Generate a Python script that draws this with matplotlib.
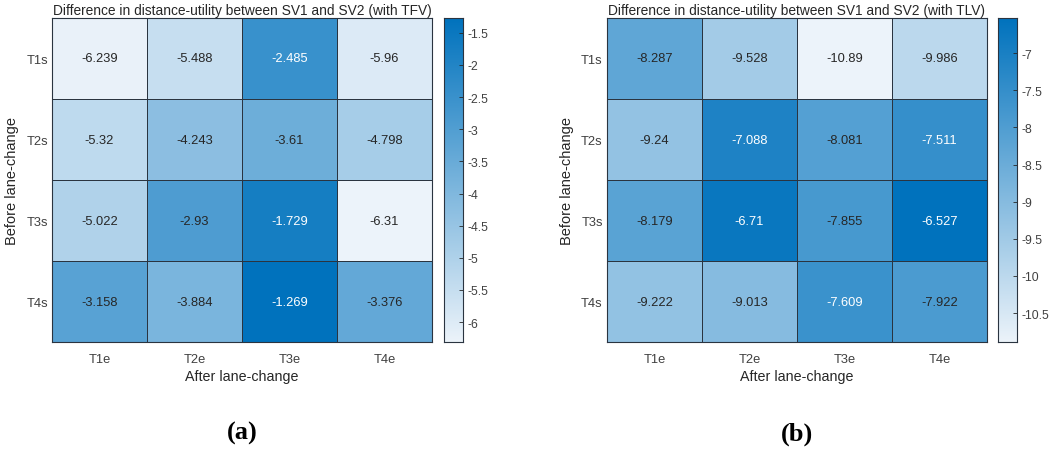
import numpy as np
import matplotlib
matplotlib.use('Agg')
import matplotlib.pyplot as plt
from matplotlib.colors import LinearSegmentedColormap

# 行/列 라벨
rows = ['T1s', 'T2s', 'T3s', 'T4s']
cols = ['T1e', 'T2e', 'T3e', 'T4e']

# (a) with TFV
tfv = [
    [-6.239, -5.488, -2.485, -5.96],
    [-5.32, -4.243, -3.61, -4.798],
    [-5.022, -2.93, -1.729, -6.31],
    [-3.158, -3.884, -1.269, -3.376],
]
# (b) with TLV
tlv = [
    [-8.287, -9.528, -10.89, -9.986],
    [-9.24, -7.088, -8.081, -7.511],
    [-8.179, -6.71, -7.855, -6.527],
    [-9.222, -9.013, -7.609, -7.922],
]

tfv_ticks = [-6, -5.5, -5, -4.5, -4, -3.5, -3, -2.5, -2, -1.5]
tlv_ticks = [-10.5, -10, -9.5, -9, -8.5, -8, -7.5, -7]

plt.rcParams['font.family'] = ['Liberation Sans', 'DejaVu Sans']

cmap = LinearSegmentedColormap.from_list('mblue', [(0.925, 0.953, 0.98), (0.0, 0.447, 0.741)])
txt_grey = '#404040'
line_c = '#2a3440'


def draw_heat(fig, rect, cbar_rect, data, title, cticks, label):
    arr = np.array(data)
    vmin, vmax = arr.min(), arr.max()
    ax = fig.add_axes(rect)
    ax.pcolormesh(arr, cmap=cmap, vmin=vmin, vmax=vmax, edgecolors=line_c, linewidth=0.5)
    ax.set_xlim(0, arr.shape[1])
    ax.set_ylim(arr.shape[0], 0)
    for i in range(arr.shape[0]):
        for j in range(arr.shape[1]):
            v = arr[i, j]
            norm = (v - vmin) / (vmax - vmin)
            c = 'white' if norm > 0.72 else '#262626'
            ax.text(j + 0.5, i + 0.5, f'{v:g}', ha='center', va='center', fontsize=9.3, color=c)
    ax.set_xticks(np.arange(arr.shape[1]) + 0.5)
    ax.set_xticklabels(cols)
    ax.set_yticks(np.arange(arr.shape[0]) + 0.5)
    ax.set_yticklabels(rows)
    ax.tick_params(axis='x', length=0, labelsize=9.3, labelcolor=txt_grey, pad=8)
    ax.tick_params(axis='y', length=0, labelsize=9.3, labelcolor=txt_grey, pad=3)
    for s in ax.spines.values():
        s.set_color(line_c)
        s.set_linewidth(0.8)
    ax.set_title(title, fontsize=9.9, color='#262626', pad=3)
    ax.set_xlabel('After lane-change', fontsize=10.3, color='#262626', labelpad=3)
    ax.set_ylabel('Before lane-change', fontsize=10.5, color='#262626', labelpad=5)

    cax = fig.add_axes(cbar_rect)
    grad = np.linspace(vmin, vmax, 256).reshape(-1, 1)
    cax.imshow(grad, aspect='auto', origin='lower', cmap=cmap,
               extent=[0, 1, vmin, vmax])
    cax.set_xticks([])
    cax.yaxis.tick_right()
    cax.set_yticks(cticks)
    cax.set_yticklabels([f'{t:g}' for t in cticks])
    cax.tick_params(axis='y', direction='in', length=3, width=0.6, labelsize=8.8,
                    labelcolor=txt_grey, color='#262626')
    for s in cax.spines.values():
        s.set_color(line_c)
        s.set_linewidth(0.8)

    fig.text(rect[0] + rect[2] / 2, 0.04, label, ha='center', va='center',
             fontsize=19, fontweight='bold', family='Liberation Serif')


fig = plt.figure(figsize=(10.5, 4.52), dpi=100)
draw_heat(fig, [0.0495, 0.241, 0.362, 0.717], [0.423, 0.241, 0.018, 0.717], tfv,
          'Difference in distance-utility between SV1 and SV2 (with TFV)', tfv_ticks, '(a)')
draw_heat(fig, [0.578, 0.241, 0.362, 0.717], [0.9505, 0.241, 0.018, 0.717], tlv,
          'Difference in distance-utility between SV1 and SV2 (with TLV)', tlv_ticks, '(b)')

fig.savefig('out.png', dpi=100)
